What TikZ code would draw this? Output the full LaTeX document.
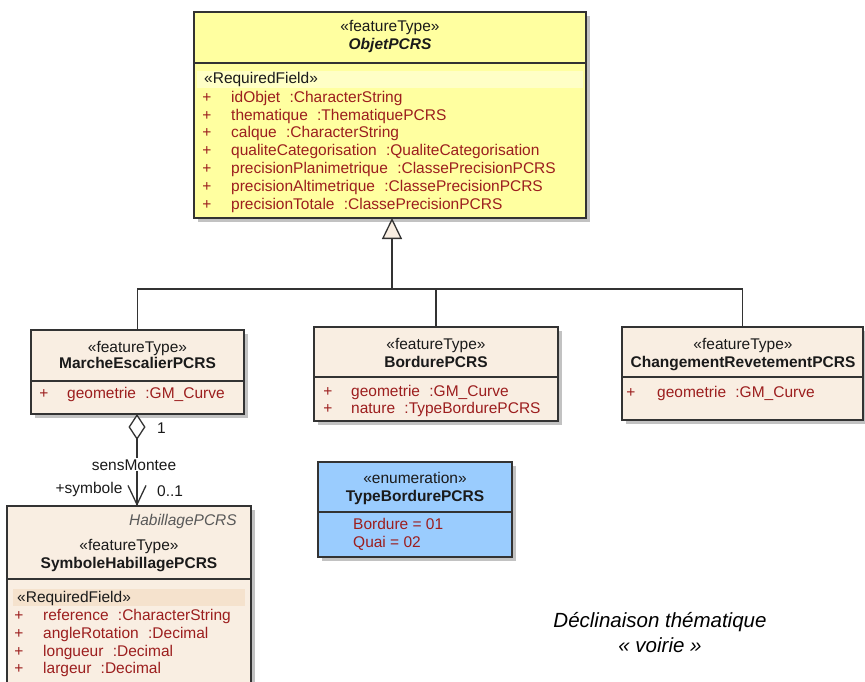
\documentclass[tikz,border=0pt]{standalone}
\usepackage{fontspec}
\setmainfont{Liberation Sans}
\usetikzlibrary{arrows.meta,shadows}

\definecolor{umlyellow}{HTML}{FFFFA0}
\definecolor{yellowband}{HTML}{FFFFC6}
\definecolor{umlbeige}{HTML}{F9EEE2}
\definecolor{beigeband}{HTML}{F5E2CD}
\definecolor{umlblue}{HTML}{9ACCFE}
\definecolor{attrred}{HTML}{9C1E1E}
\definecolor{umlline}{HTML}{333333}
\definecolor{umltext}{HTML}{1A1A1A}

\newcommand\attrgap{\hspace{0.6em}}
\newcommand\umlfont{\fontsize{15.5}{18}\selectfont}

\tikzset{
  classbox/.style={draw=umlline, line width=1.3pt, anchor=north west,
    inner sep=0pt, outer sep=0pt,
    drop shadow={shadow xshift=4pt, shadow yshift=-4pt, fill=black!40, opacity=.6}},
  sepline/.style={draw=umlline, line width=1.2pt},
  stereo/.style={font=\umlfont, text=umltext, anchor=base, inner sep=0pt},
  cname/.style={font=\umlfont\bfseries, text=umltext, anchor=base, inner sep=0pt},
  reqfield/.style={font=\umlfont, text=umltext, anchor=base west, inner sep=0pt},
  plusmark/.style={font=\umlfont, text=attrred, anchor=base, inner sep=0pt},
  attr/.style={font=\umlfont, text=attrred, anchor=base west, inner sep=0pt},
  umlconn/.style={draw=umlline, line width=1.3pt},
  connlabel/.style={font=\umlfont, text=umltext, inner sep=1pt},
  caption/.style={font=\fontsize{20.5}{24}\selectfont\itshape, text=black, anchor=base, inner sep=0pt}
}

\begin{document}
\begin{tikzpicture}[x=1pt,y=-1pt]
\useasboundingbox (0,0) rectangle (865,682);

% ---------------- ObjetPCRS ----------------
\node[classbox, fill=umlyellow, minimum width=392pt, minimum height=206pt] (objet) at (194,12) {};
\draw[sepline] (objet.west |- 0,63) -- (objet.east |- 0,63);
\fill[yellowband] (197,71) rectangle (583,88);
\node[stereo] (objetst) at (390,32) {«featureType»};
\node[cname, font=\umlfont\bfseries\itshape] (objetnm) at (390,50) {ObjetPCRS};
\node[reqfield] (objetrf) at (204,84) {«RequiredField»};
\foreach \a/\yy [count=\i] in {
  {idObjet\attrgap:CharacterString}/103,
  {thematique\attrgap:ThematiquePCRS}/121,
  {calque\attrgap:CharacterString}/138,
  {qualiteCategorisation\attrgap:QualiteCategorisation}/156,
  {precisionPlanimetrique\attrgap:ClassePrecisionPCRS}/174,
  {precisionAltimetrique\attrgap:ClassePrecisionPCRS}/192,
  {precisionTotale\attrgap:ClassePrecisionPCRS}/209} {
  \node[plusmark] (objetp\i) at (207,\yy) {+};
  \node[attr] (objeta\i) at (231,\yy) {\a};
}

% ---------------- MarcheEscalierPCRS ----------------
\node[classbox, fill=umlbeige, minimum width=213pt, minimum height=84pt] (marche) at (31,330) {};
\draw[sepline] (marche.west |- 0,381) -- (marche.east |- 0,381);
\node[stereo] (marchest) at (137.5,352) {«featureType»};
\node[cname] (marchenm) at (137.5,368) {MarcheEscalierPCRS};
\node[plusmark] (marchep1) at (44,398) {+};
\node[attr] (marchea1) at (67,398) {geometrie\attrgap:GM\_Curve};

% ---------------- BordurePCRS ----------------
\node[classbox, fill=umlbeige, minimum width=244pt, minimum height=94pt] (bord) at (314,327) {};
\draw[sepline] (bord.west |- 0,377) -- (bord.east |- 0,377);
\node[stereo] (bordst) at (436,349) {«featureType»};
\node[cname] (bordnm) at (436,367) {BordurePCRS};
\node[plusmark] (bordp1) at (328,396) {+};
\node[attr] (borda1) at (351,396) {geometrie\attrgap:GM\_Curve};
\node[plusmark] (bordp2) at (328,413) {+};
\node[attr] (borda2) at (351,413) {nature\attrgap:TypeBordurePCRS};

% ---------------- ChangementRevetementPCRS ----------------
\node[classbox, fill=umlbeige, minimum width=241pt, minimum height=93pt] (chg) at (622,327) {};
\draw[sepline] (chg.west |- 0,377) -- (chg.east |- 0,377);
\node[stereo] (chgst) at (743,349) {«featureType»};
\node[cname] (chgnm) at (743,367) {ChangementRevetementPCRS};
\node[plusmark] (chgp1) at (631,397) {+};
\node[attr] (chga1) at (657,397) {geometrie\attrgap:GM\_Curve};

% ---------------- TypeBordurePCRS (enumeration) ----------------
\node[classbox, fill=umlblue, minimum width=194pt, minimum height=95pt] (enum) at (318,462) {};
\draw[sepline] (enum.west |- 0,512) -- (enum.east |- 0,512);
\node[stereo] (enumst) at (415,483) {«enumeration»};
\node[cname] (enumnm) at (415,501) {TypeBordurePCRS};
\node[attr] (enumv1) at (353,529) {Bordure = 01};
\node[attr] (enumv2) at (353,547) {Quai = 02};

% ---------------- SymboleHabillagePCRS ----------------
\node[classbox, fill=umlbeige, minimum width=244pt, minimum height=200pt] (symb) at (7,506) {};
\draw[sepline] (symb.west |- 0,579) -- (symb.east |- 0,579);
\fill[beigeband] (13,589) rectangle (245,606);
\node[stereo, anchor=base east, font=\umlfont\itshape, text=black!65] (symbpkg) at (237,525) {HabillagePCRS};
\node[stereo] (symbst) at (129,550) {«featureType»};
\node[cname] (symbnm) at (129,568) {SymboleHabillagePCRS};
\node[reqfield] (symbrf) at (17,602) {«RequiredField»};
\foreach \a/\yy [count=\i] in {
  {reference\attrgap:CharacterString}/620,
  {angleRotation\attrgap:Decimal}/638,
  {longueur\attrgap:Decimal}/656,
  {largeur\attrgap:Decimal}/673} {
  \node[plusmark] (symbp\i) at (19,\yy) {+};
  \node[attr] (symba\i) at (43,\yy) {\a};
}

% ---------------- Generalisation ----------------
\coordinate (junction) at (392,289);
\draw[umlconn] (marche.north) |- (junction) -| (chg.north);
\draw[umlconn] (bord.north) -- (bord.north |- junction);
\draw[umlconn, -{Triangle[width=20pt,length=21pt,fill=umlbeige]}]
  (junction) -- (objet.south -| junction);

% ---------------- Aggregation sensMontee ----------------
\coordinate (aggtop) at ([xshift=-0.5pt]marche.south);
\coordinate (aggbot) at (aggtop |- symb.north);
\draw[umlconn, {Diamond[width=17pt,length=26pt,fill=white]}-{Straight Barb[length=19pt,width=18pt]}]
  (aggtop) -- (aggbot);
\draw[draw=umlline, line width=2pt] ([yshift=-26pt]aggtop) -- ([yshift=1pt]aggbot);
\node[connlabel, fill=white, anchor=base] (lblsens) at (134,470) {sensMontee};
\node[connlabel, anchor=base west] (lblone) at (156,433) {1};
\node[connlabel, anchor=base] (lblsym) at (89,493) {+symbole};
\node[connlabel, anchor=base west] (lblmult) at (156,496) {0..1};

% ---------------- Caption ----------------
\node[caption] (cap1) at (660,627) {Déclinaison thématique};
\node[caption] (cap2) at (660,652) {« voirie »};
\end{tikzpicture}
\end{document}
